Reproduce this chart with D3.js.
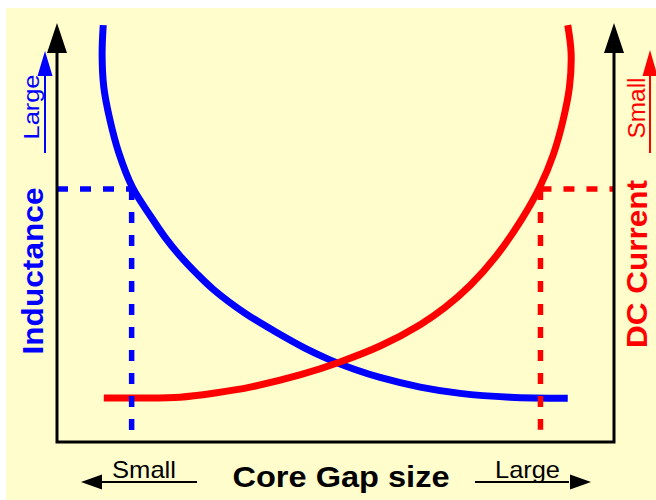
<!DOCTYPE html>
<html>
<head>
<meta charset="utf-8">
<script src="https://cdn.jsdelivr.net/npm/d3@7"></script>
<style>
  html, body { margin: 0; padding: 0; background: #fff; }
  svg { display: block; }
</style>
</head>
<body>
<div id="chart"></div>
<script>
const width = 656;
const height = 500;

// Gap size (0-100) vs relative level (0-100)
const inductanceGap = [8.3, 8.1, 8.4, 9.5, 11.1, 13.5, 16.9, 19.4, 22.1, 25.0, 28.0, 33.8, 40.0, 44.5, 49.0, 53.5, 58.0, 65.2, 72.4, 81.3, 91.7];
const inductanceLevel = [99.5, 92.4, 84.7, 76.9, 69.0, 60.9, 53.7, 48.85, 44.4, 40.3, 36.5, 30.7, 25.7, 22.4, 19.6, 17.3, 15.4, 13.1, 11.6, 10.7, 10.45];

const currentGap = [8.4, 14.9, 22.1, 28.4, 34.7, 43.6, 50.8, 58.0, 65.2, 69.7, 74.2, 78.8, 83.5, 86.7, 89.1, 90.8, 92.0, 92.3, 91.7];
const currentLevel = [10.5, 10.5, 10.7, 11.7, 13.1, 16.0, 19.1, 22.9, 28.0, 32.15, 37.4, 44.3, 53.3, 60.9, 68.6, 76.5, 84.7, 92.8, 99.5];

// operating points marked with dashed guides
const inductanceMark = { gap: 13.4, level: 60.4, floor: 0 };
const currentMark = { gap: 86.8, level: 60.4, floor: 2.9 };

const blue = "#0000ff";
const red = "#ff0000";
const font = "'Liberation Sans', Arial, sans-serif";

const x = d3.scaleLinear().domain([0, 100]).range([57, 614]);
const y = d3.scaleLinear().domain([0, 100]).range([442, 23]);

const svg = d3.select("#chart")
  .append("svg")
  .attr("width", width)
  .attr("height", height);

// yellow panel
svg.append("rect")
  .attr("x", 6)
  .attr("y", 8)
  .attr("width", width - 6)
  .attr("height", height - 8)
  .attr("fill", "#fffdcc");

const line = d3.line()
  .x(d => x(d[0]))
  .y(d => y(d[1]))
  .curve(d3.curveCatmullRom.alpha(0.5));

// curves
svg.append("path")
  .datum(d3.zip(inductanceGap, inductanceLevel))
  .attr("d", line)
  .attr("fill", "none")
  .attr("stroke", blue)
  .attr("stroke-width", 7);

svg.append("path")
  .datum(d3.zip(currentGap, currentLevel))
  .attr("d", line)
  .attr("fill", "none")
  .attr("stroke", red)
  .attr("stroke-width", 7);

// dashed guides
function guide(m, color, fromLeft) {
  const g = svg.append("g")
    .attr("stroke", color)
    .attr("stroke-width", 5.5)
    .attr("stroke-dasharray", "11,12")
    .attr("fill", "none");
  g.append("line")
    .attr("x1", fromLeft ? x(0) : x(m.gap))
    .attr("x2", fromLeft ? x(m.gap) : x(100))
    .attr("y1", y(m.level))
    .attr("y2", y(m.level));
  g.append("line")
    .attr("x1", x(m.gap))
    .attr("x2", x(m.gap))
    .attr("y1", y(m.level))
    .attr("y2", y(m.floor));
}
guide(inductanceMark, blue, true);
guide(currentMark, red, false);

// axes
const axes = svg.append("g")
  .attr("stroke", "#000")
  .attr("stroke-width", 3)
  .attr("fill", "none");
axes.append("path")
  .attr("d", `M${x(0)},52 V${y(0)} H${x(100)} V52`);

function arrowHead(cx, tipY, baseY, half, color) {
  svg.append("path")
    .attr("d", `M${cx},${tipY} L${cx - half},${baseY} L${cx + half},${baseY} Z`)
    .attr("fill", color);
}
arrowHead(x(0), y(100), 53, 10, "#000");
arrowHead(x(100), y(100), 53, 10, "#000");

// side direction arrows
function vArrow(cx, top, bottom, color) {
  svg.append("line")
    .attr("x1", cx).attr("x2", cx)
    .attr("y1", 74).attr("y2", bottom)
    .attr("stroke", color)
    .attr("stroke-width", 2);
  arrowHead(cx, top, 76, 7.5, color);
}
vArrow(45, 51, 153, blue);
vArrow(650, 50, 153, red);

function hArrow(x1, x2, tip, cy) {
  svg.append("line")
    .attr("x1", x1).attr("x2", x2)
    .attr("y1", cy).attr("y2", cy)
    .attr("stroke", "#000")
    .attr("stroke-width", 2);
  const dir = tip < x1 ? 1 : -1;
  const base = tip + dir * 21;
  svg.append("path")
    .attr("d", `M${tip},${cy} L${base},${cy - 7.5} L${base},${cy + 7.5} Z`)
    .attr("fill", "#000");
}
hArrow(100, 197, 81, 482);
hArrow(475, 569, 591, 482);

// texts
function vText(txt, cx, cy, size, weight, color, len) {
  svg.append("text")
    .attr("transform", `translate(${cx},${cy}) rotate(-90)`)
    .attr("text-anchor", "middle")
    .attr("font-family", font)
    .attr("font-size", size)
    .attr("font-weight", weight)
    .attr("fill", color)
    .attr("textLength", len)
    .attr("lengthAdjust", "spacingAndGlyphs")
    .text(txt);
}
vText("Inductance", 43, 271, 30, "bold", blue, 167);
vText("DC Current", 647, 264, 30, "bold", red, 168);
vText("Large", 39, 107, 22, "normal", blue, 65);
vText("Small", 645, 108, 23, "normal", red, 61);

function hText(txt, cx, by, size, weight, len) {
  svg.append("text")
    .attr("x", cx)
    .attr("y", by)
    .attr("text-anchor", "middle")
    .attr("font-family", font)
    .attr("font-size", size)
    .attr("font-weight", weight)
    .attr("fill", "#000")
    .attr("textLength", len)
    .attr("lengthAdjust", "spacingAndGlyphs")
    .text(txt);
}
hText("Small", 144, 478, 24, "normal", 64);
hText("Large", 527.5, 478, 24, "normal", 65);
hText("Core Gap size", 341, 487, 30, "bold", 217);
</script>
</body>
</html>
